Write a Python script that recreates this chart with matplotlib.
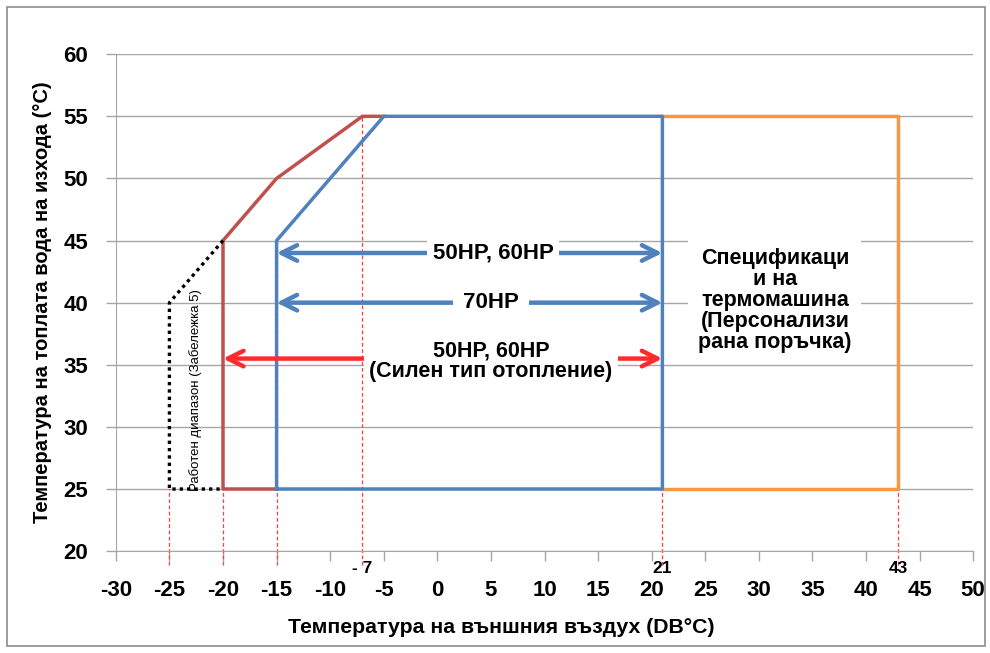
import matplotlib.pyplot as plt
from matplotlib.patches import Rectangle

plt.rcParams['font.family'] = ['Liberation Sans', 'DejaVu Sans']
plt.rcParams['axes.unicode_minus'] = False

# работни граници (x = външен въздух, y = вода на изхода)
red_x = [-15, -20, -20, -15, -7, -5]
red_y = [25, 25, 45, 50, 55, 55]
blue_x = [-15, -15, -5, 21, 21, -15]
blue_y = [25, 45, 55, 55, 25, 25]
orange_x = [21, 43, 43, 21]
orange_y = [55, 55, 25, 25]
dot_x = [-20, -25, -25, -20]
dot_y = [45, 40, 25, 25]

# червени пунктирни маркери: x и горна граница
mark_x = [-25, -20, -15, -7, 21, 43]
mark_top = [25, 25, 45, 55, 55, 55]
mark_labels = ['- 7', '21', '43']
mark_label_x = [-7, 21, 43]

x_ticks = list(range(-30, 51, 5))
y_ticks = list(range(20, 61, 5))

fig = plt.figure(figsize=(9.9, 6.53), dpi=100)
ax = fig.add_axes([0.117, 0.156, 0.866, 0.761])
fig.patches.append(Rectangle((0.007, 0.011), 0.988, 0.978, transform=fig.transFigure,
                             fill=False, edgecolor='#8c8c8c', lw=1.2))

ax.set_xlim(-30, 50)
ax.set_ylim(20, 60)
ax.set_xticks(x_ticks)
ax.set_yticks(y_ticks)
ax.grid(axis='y', color='#a6a6a6', lw=1)
ax.set_axisbelow(True)
for s in ['top', 'right']:
    ax.spines[s].set_visible(False)
for s in ['left', 'bottom']:
    ax.spines[s].set_color('#a6a6a6')
ax.tick_params(colors='#a6a6a6', length=7, width=1, labelcolor='black', labelsize=16)
for lab in ax.get_xticklabels() + ax.get_yticklabels():
    lab.set_fontweight('bold')
ax.tick_params(axis='x', pad=14)
ax.tick_params(axis='y', pad=13)

for x, top in zip(mark_x, mark_top):
    ax.plot([x, x], [18.9, top], color='#ff4040', ls=(0, (3, 2)), lw=0.9, clip_on=False, zorder=2)
for x, t in zip(mark_label_x, mark_labels):
    ax.text(x, 19.2, t, ha='center', va='top', fontsize=12.5, fontweight='bold')

ax.plot(red_x, red_y, color='#c0504d', lw=2.5, zorder=3)
ax.plot(blue_x, blue_y, color='#4f81bd', lw=2.5, zorder=4)
ax.plot(orange_x, orange_y, color='#f79646', lw=2.5, zorder=3)
ax.plot(dot_x, dot_y, color='black', lw=2.4, ls=(0, (1, 1.2)), zorder=3)

ax.text(-22.6, 33.0, 'Работен диапазон (Забележка 5)', rotation=90, ha='center', va='center',
        fontsize=9.5, zorder=5)

arrow_blue = dict(arrowstyle='<->', color='#4f81bd', lw=3.2, mutation_scale=28, shrinkA=0, shrinkB=0)
arrow_red = dict(arrowstyle='<->', color='#ff2a2a', lw=3.2, mutation_scale=28, shrinkA=0, shrinkB=0)
ax.annotate('', xy=(-15, 44), xytext=(21, 44), arrowprops=arrow_blue, zorder=5)
ax.annotate('', xy=(-15, 40), xytext=(21, 40), arrowprops=arrow_blue, zorder=5)
ax.annotate('', xy=(-20, 35.5), xytext=(21, 35.5), arrowprops=arrow_red, zorder=5)

box = dict(facecolor='white', edgecolor='none', pad=4)
ax.text(5.2, 44, '50HP, 60HP', ha='center', va='center', fontsize=16, fontweight='bold',
        bbox=box, zorder=6)
ax.text(5.0, 40, '70HP', ha='center', va='center', fontsize=16, fontweight='bold',
        bbox=dict(facecolor='white', edgecolor='none', pad=7), zorder=6)
ax.text(5.0, 35.3, '50HP, 60HP\n(Силен тип отопление)', ha='center', va='center', fontsize=15.5,
        fontweight='bold', linespacing=1.0, bbox=box, zorder=6)
ax.text(31.5, 40.2, 'Спецификаци\nи на\nтермомашина\n(Персонализи\nрана поръчка)',
        ha='center', va='center', fontsize=15.5, fontweight='bold', linespacing=1.0,
        bbox=dict(facecolor='white', edgecolor='none', pad=7), zorder=6)

ax.set_xlabel('Температура на външния въздух (DB°C)', fontsize=15.3, fontweight='bold', labelpad=6)
ax.xaxis.set_label_coords(0.45, -0.135)
ax.set_ylabel('Температура на топлата вода на изхода (°C)', fontsize=14.5, fontweight='bold',
              labelpad=8)

fig.savefig('out.png', dpi=100)
